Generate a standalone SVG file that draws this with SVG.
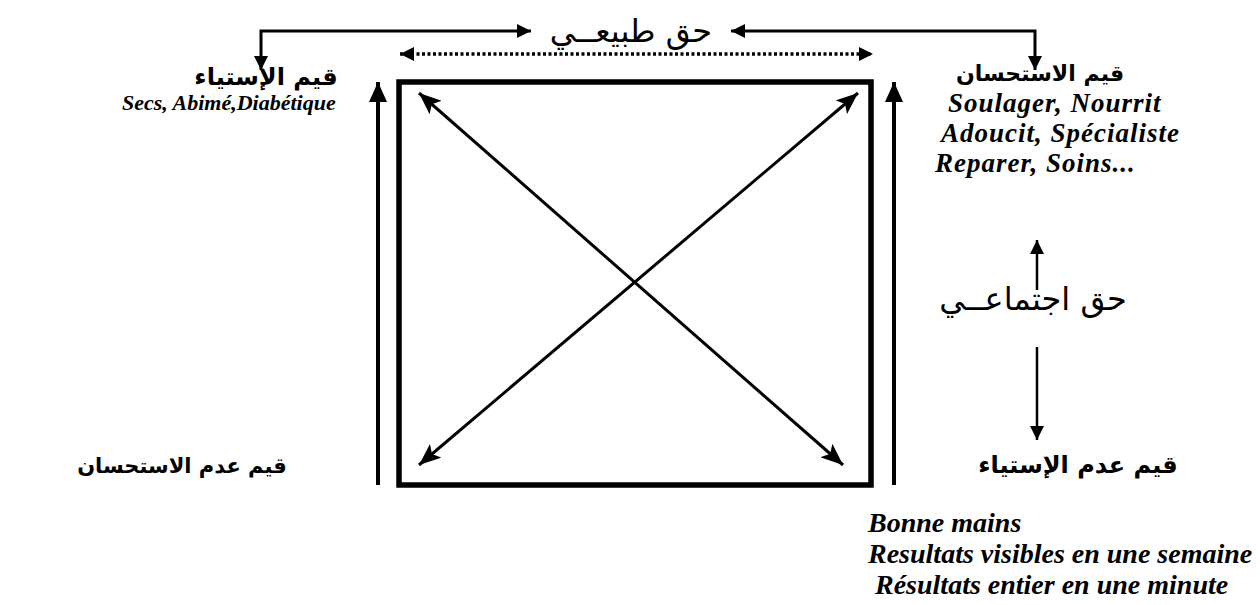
<svg xmlns="http://www.w3.org/2000/svg" width="1260" height="605" viewBox="0 0 1260 605">
<style>
.ar{font-family:"DejaVu Sans",sans-serif;font-weight:bold;font-size:22px;fill:#000;text-anchor:middle}
.arn{font-family:"DejaVu Sans",sans-serif;font-size:32px;fill:#000;text-anchor:middle}
.fr{font-family:"Liberation Serif",serif;font-weight:bold;font-style:italic;font-size:28px;fill:#000}
.fr2{font-family:"Liberation Serif",serif;font-weight:bold;font-style:italic;font-size:27px;letter-spacing:1px;fill:#000}
.ln{fill:none;stroke:#000}
</style>
<defs>
<marker id="hb" markerUnits="userSpaceOnUse" viewBox="0 0 20 20" refX="20" refY="10" markerWidth="20" markerHeight="20" orient="auto-start-reverse"><path d="M0,1 L20,10 L0,19 Z" fill="#000"/></marker>
<marker id="hd" markerUnits="userSpaceOnUse" viewBox="0 0 22 18" refX="22" refY="9" markerWidth="22" markerHeight="18" orient="auto-start-reverse"><path d="M0,0 L22,9 L0,18 L5,9 Z" fill="#000"/></marker>
<marker id="hs" markerUnits="userSpaceOnUse" viewBox="0 0 14 14" refX="14" refY="7" markerWidth="14" markerHeight="14" orient="auto-start-reverse"><path d="M0,0 L14,7 L0,14 Z" fill="#000"/></marker>
</defs>
<g id="connectors">
<polyline class="ln" stroke-width="3" points="261,70 261,31 531,31" marker-start="url(#hs)" marker-end="url(#hs)"/>
<polyline class="ln" stroke-width="3" points="731,31 1035,31 1035,70" marker-start="url(#hs)" marker-end="url(#hs)"/>
<line class="ln" stroke-width="3.5" stroke-dasharray="3 2.5" x1="400" y1="54" x2="873" y2="54" marker-start="url(#hs)" marker-end="url(#hs)"/>
<line class="ln" stroke-width="4" x1="378" y1="485" x2="378" y2="82" marker-end="url(#hb)"/>
<line class="ln" stroke-width="4" x1="894" y1="485" x2="894" y2="82" marker-end="url(#hb)"/>
<line class="ln" stroke-width="3" x1="419" y1="93" x2="843" y2="465" marker-start="url(#hd)" marker-end="url(#hd)"/>
<line class="ln" stroke-width="3" x1="858" y1="93" x2="419" y2="465" marker-start="url(#hd)" marker-end="url(#hd)"/>
<line class="ln" stroke-width="2.5" x1="1037" y1="290" x2="1037" y2="240" marker-end="url(#hs)"/>
<line class="ln" stroke-width="2.5" x1="1037" y1="347" x2="1037" y2="440" marker-end="url(#hs)"/>
</g>
<g id="square"><rect x="399" y="82" width="472" height="403" fill="none" stroke="#000" stroke-width="5.5"/></g>
<g id="natural-right"><text class="arn" x="631" y="42" direction="rtl">حق طبيعــي</text></g>
<g id="social-right"><text class="arn" x="1033" y="310" direction="rtl">حق اجتماعــي</text></g>
<g id="values-istiyaa">
<text class="ar" x="266" y="85" direction="rtl" style="font-size:24px">قيم الإستياء</text>
<text class="fr" x="122" y="110" style="font-size:22px">Secs, Abimé,Diabétique</text>
</g>
<g id="values-istihsan">
<text class="ar" x="1040" y="81" direction="rtl">قيم الاستحسان</text>
<text class="fr2" x="948" y="112">Soulager, Nourrit</text>
<text class="fr2" x="941" y="142">Adoucit, Spécialiste</text>
<text class="fr2" x="935" y="172">Reparer, Soins...</text>
</g>
<g id="values-non-istihsan"><text class="ar" x="182" y="473" direction="rtl" style="font-size:21px">قيم عدم الاستحسان</text></g>
<g id="values-non-istiyaa">
<text class="ar" x="1078" y="473" direction="rtl" style="font-size:24px">قيم عدم الإستياء</text>
<text class="fr" x="868" y="532">Bonne mains</text>
<text class="fr" x="868" y="563">Resultats visibles en une semaine</text>
<text class="fr" x="875" y="594">Résultats entier en une minute</text>
</g>
</svg>
